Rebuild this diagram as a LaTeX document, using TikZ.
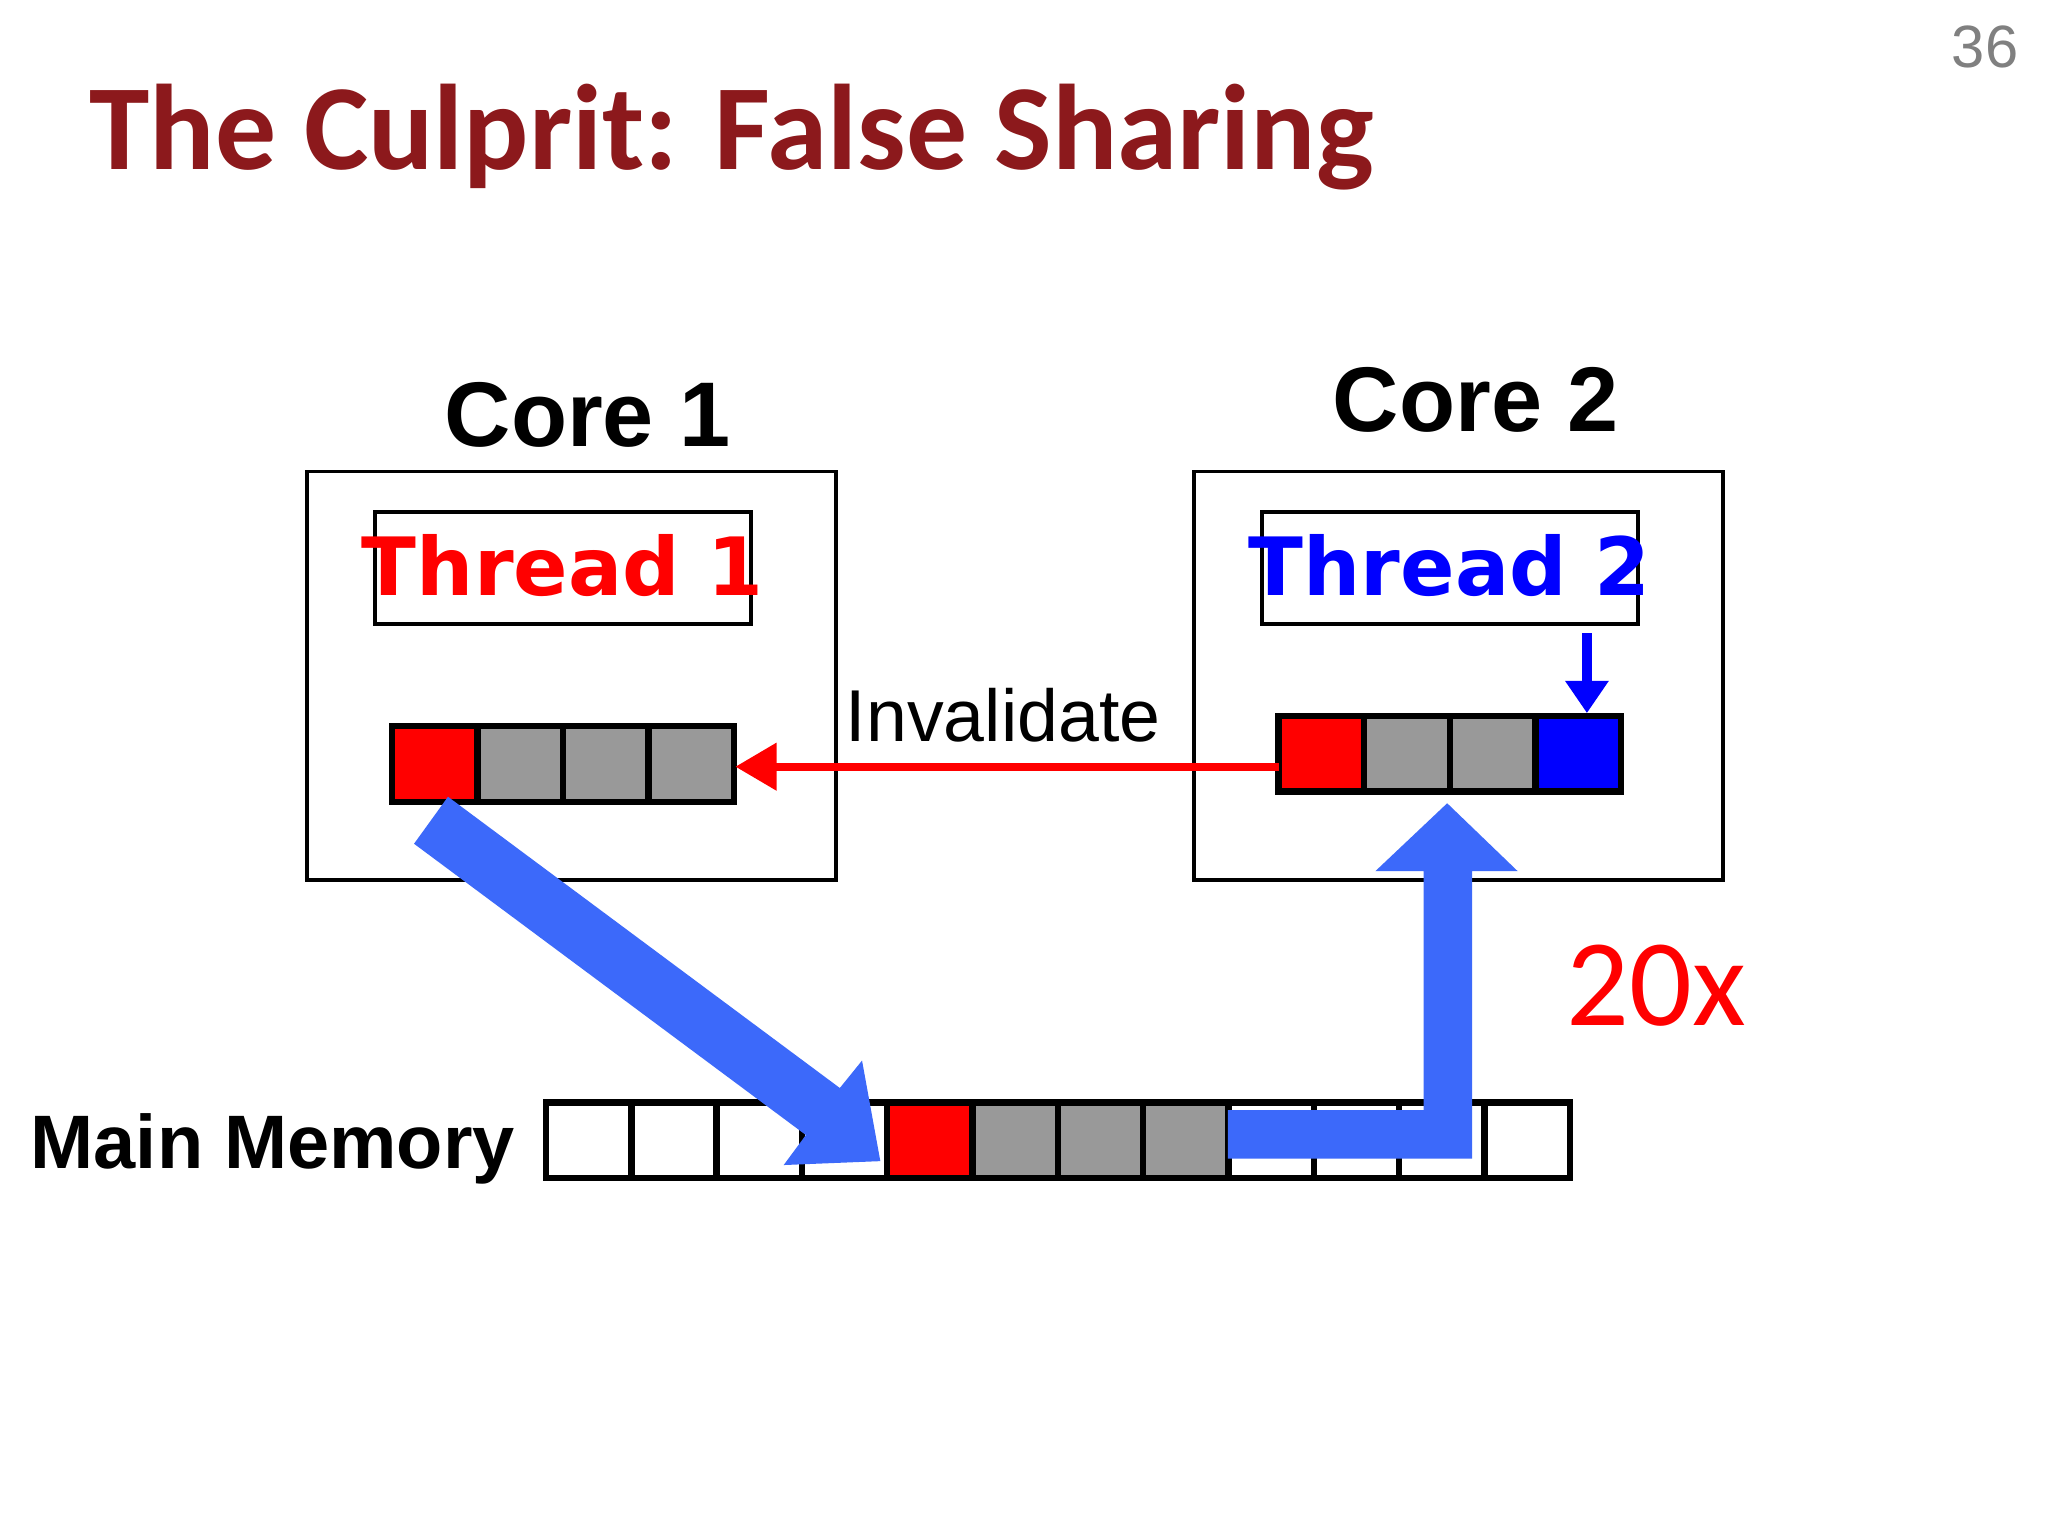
\documentclass[tikz,border=0pt]{standalone}
\usepackage{fontspec}
\usetikzlibrary{arrows.meta}
\setmainfont{Liberation Sans}
\newfontfamily\carlitofont{Carlito}
\newfontfamily\dejavufont{DejaVu Sans}
\definecolor{titlered}{RGB}{140,25,28}
\definecolor{bigblue}{RGB}{60,105,250}
\definecolor{cellgray}{RGB}{153,153,153}
\begin{document}
\begin{tikzpicture}[x=0.01cm,y=-0.01cm,
  box/.style={draw=black,line width=0.8pt},
  cell/.style={draw=black,line width=1.4pt},
  big/.style={fill=bigblue,draw=none}]
\useasboundingbox[fill=white] (0,0) rectangle (1568,1176);
\node[font=\carlitofont\bfseries\fontsize{26.5}{30}\selectfont,text=titlered,anchor=base west,inner sep=0] (title) at (68,130) {The Culprit: False Sharing};
\node[font=\fontsize{13}{15}\selectfont,text=gray,anchor=base east,inner sep=0] (num) at (1546,52) {36};
% cores
\draw[box] (235,361) rectangle (640,674);
\draw[box] (914,361) rectangle (1319,674);
\node[font=\bfseries\fontsize{20}{24}\selectfont,anchor=base,inner sep=0] (c1) at (450,342) {Core 1};
\node[font=\bfseries\fontsize{20}{24}\selectfont,anchor=base,inner sep=0] (c2) at (1130,330) {Core 2};
\draw[box] (287,392) rectangle (575,478);
\draw[box] (966,392) rectangle (1254,478);
\node[font=\dejavufont\bfseries\fontsize{17.5}{20}\selectfont,text=red,anchor=base,inner sep=0] (t1) at (431,456) {Thread 1};
\node[font=\dejavufont\bfseries\fontsize{17.5}{20}\selectfont,text=blue,anchor=base,inner sep=0] (t2) at (1110,456) {Thread 2};
% core 1 cache
\foreach \i/\c in {0/red,1/cellgray,2/cellgray,3/cellgray}
  \draw[cell,fill=\c] ({300+65.5*\i},556) rectangle ({365.5+65.5*\i},614);
% core 2 cache
\foreach \i/\c in {0/red,1/cellgray,2/cellgray,3/blue}
  \draw[cell,fill=\c] ({979+65.5*\i},548) rectangle ({1044.5+65.5*\i},606);
\coordinate (sa) at (1215,485); \coordinate (sb) at (1215,546);
\draw[blue,line width=2.2pt,-{Triangle[width=9pt,length=7pt]}] (sa) -- (sb);
% invalidate
\coordinate (ia) at (979,587); \coordinate (ib) at (563,587);
\draw[red,line width=1.8pt,-{Triangle[width=10pt,length=9pt]}] (ia) -- (ib);
\node[font=\fontsize{16}{19}\selectfont,anchor=base,inner sep=0] (inv) at (768,568) {Invalidate};
% main memory
\node[font=\bfseries\fontsize{16.5}{19}\selectfont,anchor=base east,inner sep=0] (mm) at (395,895) {Main Memory};
\foreach \i/\c in {0/white,1/white,2/white,3/white,4/red,5/cellgray,6/cellgray,7/cellgray,8/white,9/white,10/white,11/white}
  \draw[cell,fill=\c] ({418+65.33*\i},844) rectangle ({483.33+65.33*\i},902);
% big arrows
\fill[big] (343,610) -- (643,833) -- (660,812) -- (674,889) -- (600,892) -- (617,869) -- (317,646) -- cycle;
\fill[big] (940,850) -- (1090,850) -- (1090,667) -- (1053,667) -- (1108,615) -- (1162,667) -- (1127,667) -- (1127,887) -- (940,887) -- cycle;
\node[font=\carlitofont\fontsize{27}{30}\selectfont,text=red,anchor=base,inner sep=0] (x20) at (1268,785) {20x};
\end{tikzpicture}
\end{document}
